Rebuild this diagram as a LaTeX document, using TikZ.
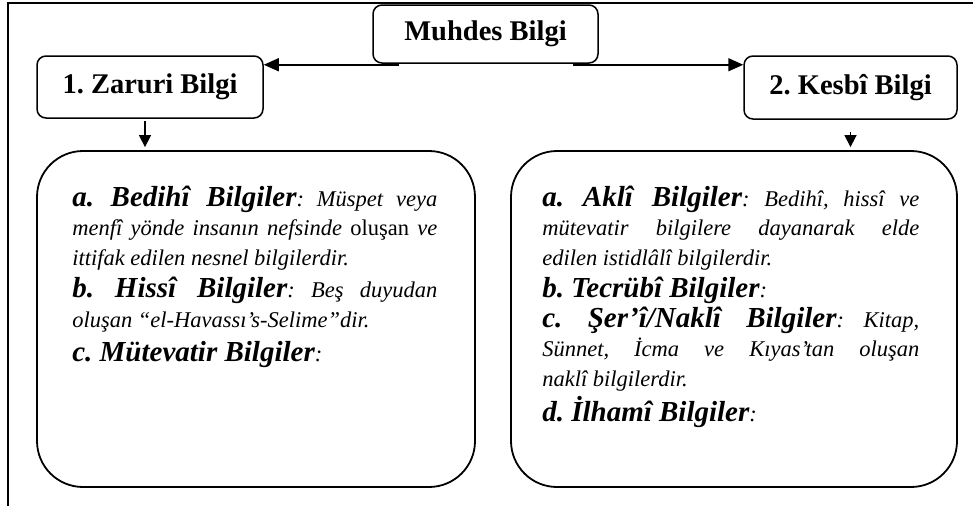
\documentclass[tikz,border=0pt]{standalone}
\usepackage{fontspec}
\setmainfont{Liberation Serif}
\usetikzlibrary{arrows.meta}
% bold italic lead-in of each list item
\newcommand\itemhead{\fontsize{29}{29.5}\selectfont\bfseries}
\frenchspacing
\begin{document}
\begin{tikzpicture}[x=1pt,y=-1pt,
  frame/.style={line width=1.8pt},
  titlebox/.style={draw, line width=1.5pt, rounded corners=9pt, inner sep=0pt,
    font=\fontsize{28.5}{30}\selectfont\bfseries},
  listbox/.style={draw, line width=1.8pt, rounded corners=46pt, inner sep=0pt},
  listtext/.style={align=justify, inner sep=0pt, anchor=base west,
    font=\fontsize{22.5}{29.5}\selectfont\itshape\frenchspacing},
  link/.style={line width=1.5pt, -{Triangle[length=15pt,width=13pt]}},
  drop/.style={line width=1.5pt, -{Triangle[length=12pt,width=12pt]}, shorten >=3pt}]

\useasboundingbox (0,0) rectangle (973,506);

% page frame: top and left rule
\draw[frame] (8,506) -- (8,3) -- (973,3);

% headings
\node[titlebox, minimum width=225pt, minimum height=58pt] (muhdes) at (485.5,34) {Muhdes Bilgi};
\node[titlebox, minimum width=226pt, minimum height=62pt] (zaruri) at (150,87) {1. Zaruri Bilgi};
\node[titlebox, minimum width=213pt, minimum height=63pt] (kesbi) at (850.5,87.5) {2. Kesbî Bilgi};

% content panels
\node[listbox, minimum width=438pt, minimum height=336pt] (zlist) at (256,319) {};
\node[listbox, minimum width=446pt, minimum height=336pt] (klist) at (734,319) {};

\node[listtext, text width=365pt] (ztext) at ([shift={(36,56)}]zlist.north west) {%
{\itemhead a. Bedihî Bilgiler}: Müspet veya\linebreak
menfî yönde insanın nefsinde {\upshape oluşan} ve\linebreak
ittifak edilen nesnel bilgilerdir.\\[3pt]
{\itemhead b. Hissî Bilgiler}: Beş duyudan\linebreak
oluşan “el-Havassı’s-Selime”dir.\\[5pt]
{\itemhead c. Mütevatir Bilgiler}:};

\node[listtext, text width=377pt] (ktext) at ([shift={(32,56)}]klist.north west) {%
{\itemhead a. Aklî Bilgiler}: Bedihî, hissî ve\linebreak
mütevatir bilgilere dayanarak elde\linebreak
edilen istidlâlî bilgilerdir.\\[3pt]
{\itemhead b. Tecrübî Bilgiler}:\\
{\itemhead c. Şer’î/Naklî Bilgiler}: Kitap,\linebreak
Sünnet, İcma ve Kıyas’tan oluşan\linebreak
naklî bilgilerdir.\\[4pt]
{\itemhead d. İlhamî Bilgiler}:};

% connectors
\coordinate (mL) at ([xshift=27pt,yshift=-1pt]muhdes.south west);
\coordinate (mR) at ([xshift=-26pt,yshift=-1pt]muhdes.south east);
\draw[link] (mL) -- (mL -| zaruri.east);
\draw[link] (mR) -- (mR -| kesbi.west);

\coordinate (zd) at ([xshift=-5pt,yshift=-2pt]zaruri.south);
\coordinate (kd) at ([yshift=-12pt]kesbi.south);
\draw[drop] (zd) -- (zd |- zlist.north);
\draw[drop] (kd) -- (kd |- klist.north);
\end{tikzpicture}
\end{document}
